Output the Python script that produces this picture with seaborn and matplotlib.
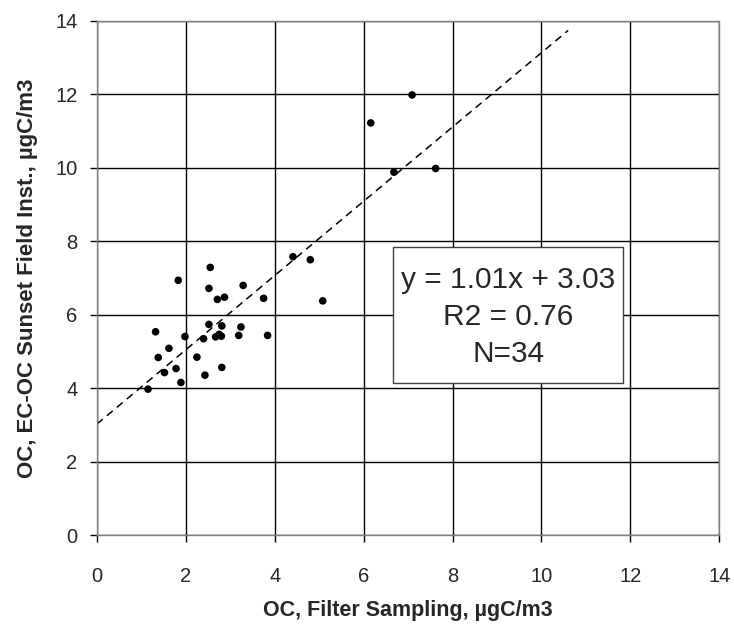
import numpy as np
import pandas as pd
import seaborn as sns
import matplotlib.pyplot as plt
from matplotlib.patches import Rectangle

# Values
filter_oc = [2.55, 1.83, 2.52, 3.29, 2.71, 2.87, 3.75, 4.41, 1.32, 2.52,
             2.81, 3.24, 1.98, 2.40, 2.67, 2.75, 2.80, 3.19, 3.84, 1.62,
             1.38, 2.25, 1.78, 1.52, 2.81, 2.43, 1.89, 1.15, 7.09, 6.16,
             6.68, 7.62, 4.80, 5.08]
sunset_oc = [7.29, 6.94, 6.72, 6.80, 6.42, 6.48, 6.45, 7.58, 5.54, 5.74,
             5.70, 5.67, 5.41, 5.35, 5.40, 5.47, 5.42, 5.44, 5.44, 5.09,
             4.84, 4.85, 4.54, 4.43, 4.57, 4.36, 4.16, 3.98, 11.98, 11.22,
             9.88, 9.98, 7.50, 6.38]

slope = 1.01
intercept = 3.03
fit_range = [0, 10.6]
ticks = [0, 2, 4, 6, 8, 10, 12, 14]
stats_text = 'y = 1.01x + 3.03\nR2 = 0.76\nN=34'

df = pd.DataFrame({'filter': filter_oc, 'sunset': sunset_oc})

sns.set_style('white')
plt.rcParams['font.family'] = ['Liberation Sans', 'DejaVu Sans']

fig = plt.figure(figsize=(7.34, 6.27), dpi=100)
ax = fig.add_axes([0.132, 0.146, 0.848, 0.821])

# Trend line
fit_x = np.array(fit_range)
ax.plot(fit_x, slope * fit_x + intercept, color='black', lw=1.1,
        dashes=(5, 3.5), zorder=2)

sns.scatterplot(data=df, x='filter', y='sunset', color='black', s=30,
                edgecolor='none', ax=ax, zorder=3)

ax.set_xlim(0, 14)
ax.set_ylim(0, 14)
ax.set_xticks(ticks)
ax.set_yticks(ticks)
ax.grid(True, color='black', lw=1)
ax.set_axisbelow(True)
for s in ax.spines.values():
    s.set_color('#808080')
    s.set_linewidth(1)
ax.tick_params(axis='both', direction='out', length=5, width=1,
               color='black', labelsize=14.5, bottom=True, left=True)
ax.tick_params(axis='x', pad=18)
ax.tick_params(axis='y', pad=9)

ax.set_xlabel('OC, Filter Sampling, µgC/m3', fontsize=15.5, fontweight='bold',
              labelpad=10)
ax.set_ylabel('OC, EC-OC Sunset Field Inst., µgC/m3', fontsize=16,
              fontweight='bold', labelpad=12)

# Statistics box
ax.add_patch(Rectangle((6.67, 4.14), 5.16, 3.70, facecolor='white',
                       edgecolor='#404040', lw=1, zorder=4))
ax.text(9.25, 5.94, stats_text, fontsize=21.5, ha='center', va='center',
        linespacing=1.42, zorder=5)

plt.savefig('out.png', dpi=100)
